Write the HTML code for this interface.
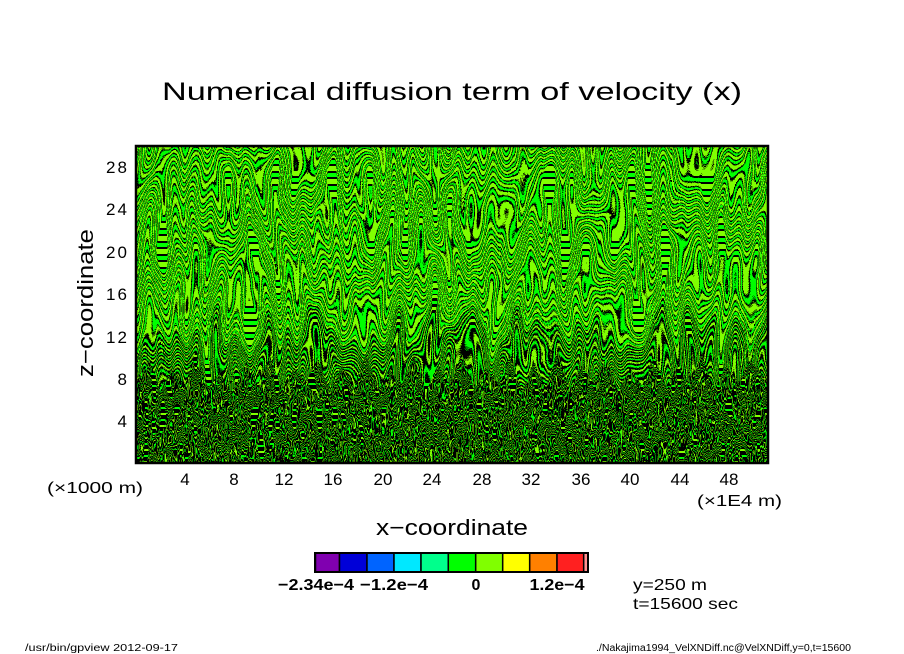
<!DOCTYPE html>
<html>
<head>
<meta charset="utf-8">
<style>
html,body{margin:0;padding:0;background:#fff;}
svg{display:block;}
text{font-family:"Liberation Sans",sans-serif;fill:#000;}
</style>
</head>
<body>
<svg width="904" height="654" viewBox="0 0 904 654" xmlns="http://www.w3.org/2000/svg">
<defs>
  <clipPath id="clipTop"><rect x="136" y="146" width="632" height="260"/></clipPath>
  <clipPath id="clipBot"><polygon points="136,380 150,360 160,392 172,368 185,385 196,350 208,388 220,372 232,395 246,362 258,384 270,356 282,390 294,368 306,382 318,358 330,392 342,366 354,386 366,354 378,390 390,370 402,384 414,356 426,392 438,364 450,386 462,352 474,390 486,368 498,384 510,356 522,392 534,362 546,388 558,350 570,390 582,366 594,384 606,358 618,392 630,368 642,386 654,356 666,388 678,364 690,384 702,354 714,390 726,366 738,384 750,360 768,380 768,463 136,463"/></clipPath>
  <pattern id="pA" width="13" height="13" patternUnits="userSpaceOnUse">
    <rect width="13" height="13" fill="#000"/>
    <rect y="0" width="13" height="4" fill="#00ff00"/>
    <rect y="6" width="13" height="5" fill="#80ff00"/>
  </pattern>
  <pattern id="pM" width="12" height="12" patternUnits="userSpaceOnUse">
    <rect width="12" height="12" fill="#000"/>
    <rect y="0" width="12" height="3" fill="#00ff00"/>
    <rect y="6" width="12" height="3" fill="#80ff00"/>
  </pattern>
  <pattern id="pB" width="12" height="12" patternUnits="userSpaceOnUse">
    <rect width="12" height="12" fill="#000"/>
    <rect y="0" width="12" height="2" fill="#00ff00"/>
    <rect y="6" width="12" height="2" fill="#80ff00"/>
  </pattern>
  <filter id="fA" x="0" y="0" width="1" height="1" color-interpolation-filters="sRGB">
    <feTurbulence type="fractalNoise" baseFrequency="0.07 0.014" numOctaves="1" seed="3" result="n"/>
    <feColorMatrix in="n" type="matrix" values="0.2 0 0 0 0.4  0 2.4 0 0 -0.7  0 0 0 0 0  0 0 0 0 1" result="m"/>
    <feDisplacementMap in="SourceGraphic" in2="m" scale="70" xChannelSelector="R" yChannelSelector="G"/>
  </filter>
  <filter id="fB" x="0" y="0" width="1" height="1" color-interpolation-filters="sRGB">
    <feTurbulence type="fractalNoise" baseFrequency="0.12 0.03" numOctaves="2" seed="7" result="n"/>
    <feColorMatrix in="n" type="matrix" values="0.3 0 0 0 0.35  0 2.4 0 0 -0.7  0 0 0 0 0  0 0 0 0 1" result="m"/>
    <feDisplacementMap in="SourceGraphic" in2="m" scale="50" xChannelSelector="R" yChannelSelector="G"/>
  </filter>
</defs>

<rect width="904" height="654" fill="#fff"/>

<!-- title -->
<text x="162" y="100" font-size="25" textLength="580" lengthAdjust="spacingAndGlyphs">Numerical diffusion term of velocity (x)</text>

<!-- plot area -->
<rect x="136" y="146" width="632" height="317" fill="#000"/>
<g clip-path="url(#clipTop)">
  <g filter="url(#fA)">
    <rect x="90" y="100" width="730" height="230" fill="url(#pA)"/>
    <rect x="90" y="330" width="730" height="120" fill="url(#pM)"/>
  </g>
</g>
<g clip-path="url(#clipBot)">
  <g filter="url(#fB)">
    <rect x="90" y="320" width="730" height="190" fill="url(#pB)"/>
  </g>
</g>
<rect x="136" y="146" width="632" height="317" fill="none" stroke="#000" stroke-width="2.5"/>

<!-- y tick labels -->
<g font-size="17" text-anchor="end">
  <text x="127" y="173" textLength="21">28</text>
  <text x="127" y="215" textLength="21">24</text>
  <text x="127" y="258" textLength="21">20</text>
  <text x="127" y="300" textLength="21">16</text>
  <text x="127" y="343" textLength="21">12</text>
  <text x="127" y="385">8</text>
  <text x="127" y="427">4</text>
</g>

<!-- x tick labels -->
<g font-size="17" text-anchor="middle">
  <text x="185" y="485">4</text>
  <text x="234" y="485">8</text>
  <text x="284" y="485">12</text>
  <text x="333" y="485">16</text>
  <text x="383" y="485">20</text>
  <text x="432" y="485">24</text>
  <text x="482" y="485">28</text>
  <text x="531" y="485">32</text>
  <text x="581" y="485">36</text>
  <text x="630" y="485">40</text>
  <text x="680" y="485">44</text>
  <text x="729" y="485">48</text>
</g>

<text x="47" y="493" font-size="16" textLength="96" lengthAdjust="spacingAndGlyphs">(×1000 m)</text>
<text x="697" y="506" font-size="16" textLength="85" lengthAdjust="spacingAndGlyphs">(×1E4 m)</text>

<!-- axis titles -->
<text x="376" y="535" font-size="22" textLength="152" lengthAdjust="spacingAndGlyphs">x−coordinate</text>
<text transform="translate(93,377) rotate(-90)" font-size="22" textLength="148" lengthAdjust="spacingAndGlyphs">z−coordinate</text>

<!-- colorbar -->
<g stroke="#000" stroke-width="1.5">
  <rect x="315.5" y="553" width="24" height="19" fill="#8000b0"/>
  <rect x="339.5" y="553" width="27.5" height="19" fill="#0000d8"/>
  <rect x="367" y="553" width="27" height="19" fill="#0064ff"/>
  <rect x="394" y="553" width="27" height="19" fill="#00e8ff"/>
  <rect x="421" y="553" width="27.3" height="19" fill="#00ff8c"/>
  <rect x="448.3" y="553" width="27.4" height="19" fill="#00ff00"/>
  <rect x="475.7" y="553" width="27" height="19" fill="#80ff00"/>
  <rect x="502.7" y="553" width="27" height="19" fill="#ffff00"/>
  <rect x="529.7" y="553" width="27.3" height="19" fill="#ff8000"/>
  <rect x="557" y="553" width="26.7" height="19" fill="#ff2020"/>
  <rect x="583.7" y="553" width="4.3" height="19" fill="#ff9090"/>
</g>
<rect x="315" y="553" width="273" height="19" fill="none" stroke="#000" stroke-width="2"/>

<g font-size="16" font-weight="bold" text-anchor="middle">
  <text x="316" y="590" textLength="76" lengthAdjust="spacingAndGlyphs">−2.34e−4</text>
  <text x="394" y="590" textLength="68" lengthAdjust="spacingAndGlyphs">−1.2e−4</text>
  <text x="476" y="590">0</text>
  <text x="557" y="590" textLength="55" lengthAdjust="spacingAndGlyphs">1.2e−4</text>
</g>

<text x="633" y="590" font-size="16" textLength="74" lengthAdjust="spacingAndGlyphs">y=250 m</text>
<text x="633" y="609" font-size="16" textLength="105" lengthAdjust="spacingAndGlyphs">t=15600 sec</text>

<!-- footer -->
<text x="25" y="651" font-size="10" textLength="153" lengthAdjust="spacingAndGlyphs">/usr/bin/gpview   2012-09-17</text>
<text x="596" y="651" font-size="10" textLength="255" lengthAdjust="spacingAndGlyphs">./Nakajima1994_VelXNDiff.nc@VelXNDiff,y=0,t=15600</text>
</svg>
</body>
</html>
